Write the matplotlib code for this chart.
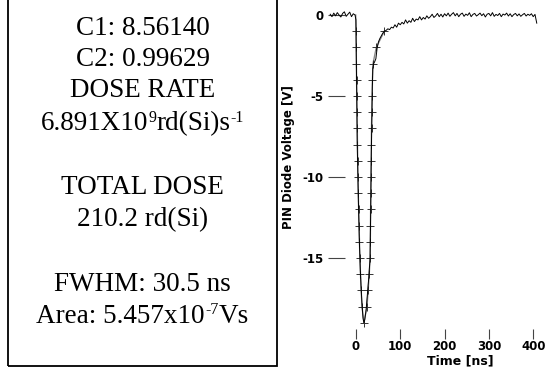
import matplotlib
matplotlib.use("Agg")
import matplotlib.pyplot as plt
from matplotlib.patches import Rectangle
import numpy as np

# --- measured trace (PIN diode voltage vs time) ---
pre_t = [-58, -54, -50, -46, -42, -38, -34, -30, -26, -22, -18, -14, -10, -6, -2]
pre_v = [0.05, -0.1, 0.12, -0.05, 0.15, 0.0, -0.12, 0.1, 0.2, -0.08, 0.05, 0.18, -0.1, 0.08, 0.0]

pulse_t = [0, 1, 2, 3, 4.5, 6, 8, 10, 12, 14, 16, 18, 20, 23, 26, 29, 32, 33, 34, 35,
           36, 37, 38, 40, 42, 45, 48, 51, 54, 57]
pulse_v = [-0.3, -3.0, -6.0, -8.0, -10.0, -12.0, -14.2, -15.8, -17.0, -18.0, -18.7, -19.0,
           -18.8, -18.2, -17.2, -16.2, -15.0, -12.5, -10.0, -8.0, -6.0, -4.5, -3.3, -3.0,
           -2.9, -2.7, -2.0, -1.65, -1.45, -1.3]

# tail sampled every 4 ns starting at 60 ns
tail_v = [-1.15, -1.0, -0.95, -0.85, -0.9, -0.75, -0.8, -0.6,
          -0.75, -0.5, -0.6, -0.45, -0.55, -0.3, -0.5, -0.35,
          -0.45, -0.2, -0.4, -0.25, -0.3, -0.1, -0.3, -0.15,
          -0.25, -0.05, -0.2, -0.1, 0.05, -0.15, -0.05, 0.1,
          -0.1, 0.05, -0.12, 0.08, -0.05, 0.12, -0.08, 0.05,
          0.15, -0.05, 0.1, -0.1, 0.05, 0.12, -0.08, 0.06,
          -0.02, 0.14, -0.1, 0.04, 0.1, -0.06, 0.02, 0.12,
          -0.04, 0.08, -0.12, 0.05, 0.1, -0.05, 0.15, -0.08,
          0.04, -0.03, 0.1, -0.1, 0.06, 0.0, 0.12, -0.06,
          0.08, -0.1, 0.03, 0.1, -0.05, 0.07, -0.08, 0.02,
          0.1, -0.06, 0.05, -0.02, 0.08, -0.1, 0.04, -0.5]
tail_t = np.arange(60, 60 + 4 * len(tail_v), 4)

# --- fitted pulse (markers at each volt) ---
fall_t = [0.3, 0.7, 1.0, 1.5, 2.0, 2.5, 3.0, 3.5, 4.0, 4.5, 5.3, 6.2, 7.1, 8.0, 9.0,
          10.3, 11.8, 13.8, 18.0]
fall_v = [-1, -2, -3, -4, -5, -6, -7, -8, -9, -10, -11, -12, -13, -14, -15, -16, -17, -18, -19]
rise_t = [25.0, 27.5, 30.0, 32.0, 32.4, 32.8, 33.2, 33.6, 34.0, 34.4, 34.8, 35.2, 35.8,
          36.5, 37.3, 38.5, 46.0, 64.0]
rise_v = [-18, -17, -16, -15, -14, -13, -12, -11, -10, -9, -8, -7, -6, -5, -4, -3, -2, -1]

yticks = [0, -5, -10, -15]
xticks = [0, 100, 200, 300, 400]

# info box text: each line is a list of (text, superscript?)
info_lines = [
    [("C1: 8.56140", False)],
    [("C2: 0.99629", False)],
    [("DOSE RATE", False)],
    [("6.891X10", False), ("9", True), ("rd(Si)s", False), ("-1", True)],
    [("TOTAL DOSE", False)],
    [("210.2 rd(Si)", False)],
    [("FWHM: 30.5 ns", False)],
    [("Area: 5.457x10", False), ("-7", True), ("Vs", False)],
]
info_baselines = [35, 66, 97, 130, 194, 226, 291, 323]  # pixels from top

plt.rcParams['axes.unicode_minus'] = False

W, H = 553, 371
fig = plt.figure(figsize=(W / 100, H / 100), dpi=100)
renderer = fig.canvas.get_renderer()

# text box on the left
fig.patches.append(Rectangle((8 / W, 1 - 366 / H), 269 / W, 380 / H,
                             transform=fig.transFigure, fill=False,
                             edgecolor='black', linewidth=1.3))
FS, FS_SUP, SUP_RAISE = 19.5, 11.5, 8.5
for pieces, yb in zip(info_lines, info_baselines):
    arts = []
    for s, sup in pieces:
        y = yb - SUP_RAISE if sup else yb
        arts.append(fig.text(0, 1 - y / H, s, ha='left', va='baseline',
                             fontsize=FS_SUP if sup else FS,
                             family='Liberation Serif', color='black'))
    widths = [a.get_window_extent(renderer).width for a in arts]
    x = 142.5 - sum(widths) / 2
    for a, w in zip(arts, widths):
        a.set_x(x / W)
        x += w

# pulse plot
ax = fig.add_axes([328 / W, (H - 339) / H, 217 / W, 334 / H])
t_all = np.concatenate([pre_t, pulse_t, tail_t])
v_all = np.concatenate([pre_v, pulse_v, tail_v])
fit_t = [-0.5] + fall_t + rise_t
fit_v = [0] + fall_v + rise_v

ax.plot(fit_t, fit_v, color='#8a8a8a', lw=1.0, marker='+', markersize=5.5,
        markeredgecolor='#333333', markeredgewidth=0.7, markevery=list(range(1, len(fit_t))))
ax.plot(t_all, v_all, color='black', lw=0.7)

ax.set_xlim(-63, 426.6)
ax.set_ylim(-20.0, 0.62)
for s in ax.spines.values():
    s.set_visible(False)

ax.set_yticks(yticks)
ax.set_yticklabels([str(v) for v in yticks])
ax.set_xticks(xticks)
ax.set_xticklabels([str(v) for v in xticks])
ax.tick_params(axis='y', direction='in', length=12, width=0.8, color='#444444',
               pad=3.5, labelsize=8.5)
ax.tick_params(axis='x', direction='in', length=7.5, width=0.8, color='#444444',
               pad=0.8, labelsize=8.5)
for lab in ax.get_xticklabels() + ax.get_yticklabels():
    lab.set_fontweight('bold')

ax.set_ylabel("PIN Diode Voltage [V]", fontsize=8.5, fontweight='bold')
ax.yaxis.set_label_coords(-0.152, 0.545)
ax.set_xlabel("Time [ns]", fontsize=9, fontweight='bold', va='center')
ax.xaxis.set_label_coords(0.608, -0.066)

fig.savefig("out.png", dpi=100)
